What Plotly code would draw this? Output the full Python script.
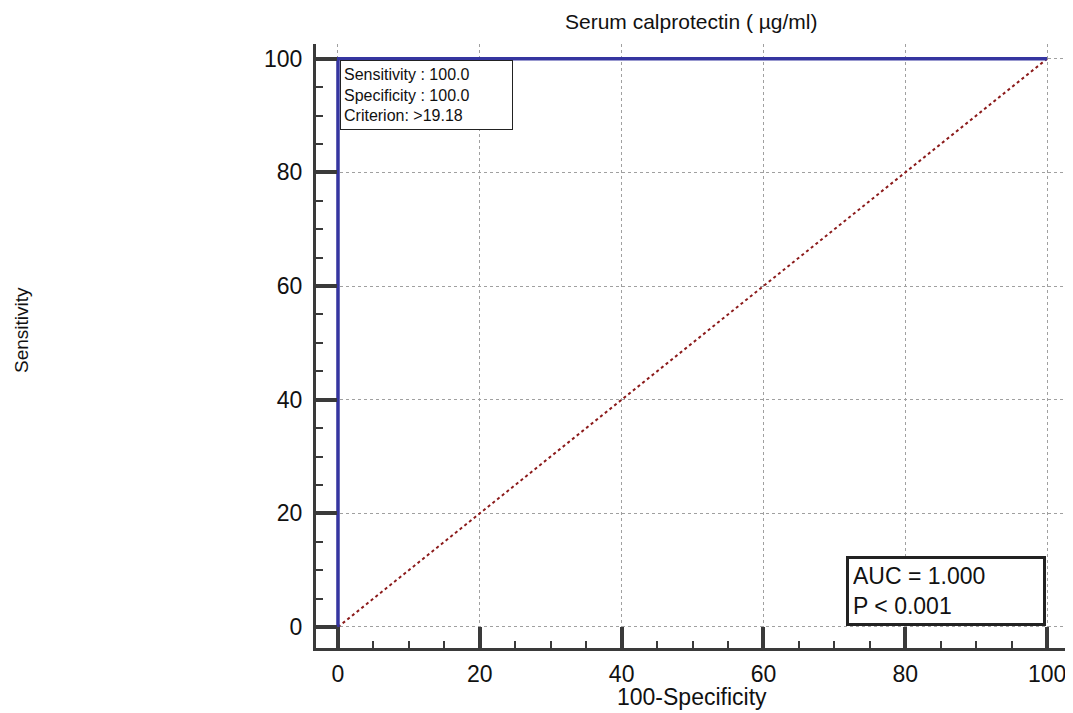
import plotly.graph_objects as go

# ROC data
roc_fpr = [0, 0, 100]
roc_tpr = [0, 100, 100]
ref_x = [0, 100]
ref_y = [0, 100]
tick_vals = [0, 20, 40, 60, 80, 100]
tick_text = ["0", "20", "40", "60", "80", "100"]

title_text = "Serum calprotectin ( µg/ml)"
x_title = "100-Specificity"
y_title = "Sensitivity"
info_lines = ["Sensitivity : 100.0", "Specificity : 100.0", "Criterion: >19.18"]
auc_lines = ["AUC = 1.000", "P &lt; 0.001"]

FONT = "Liberation Sans, Arial, sans-serif"
AX = "#3a3a3a"

# page has an 8px body margin; figure sized to fit the window
W, H = 1065, 705

fig = go.Figure()
fig.add_trace(go.Scatter(x=ref_x, y=ref_y, mode="lines",
                         line=dict(color="#8b1a1a", width=2, dash="dot"),
                         showlegend=False, hoverinfo="skip"))
fig.add_trace(go.Scatter(x=roc_fpr, y=roc_tpr, mode="lines",
                         line=dict(color="#3535a0", width=3.5),
                         showlegend=False, hoverinfo="skip"))

axis_common = dict(
    showline=True, linewidth=3, linecolor=AX, mirror=False,
    showgrid=True, gridcolor="#a0a0a0", gridwidth=1, griddash="dot",
    zeroline=False,
    ticks="inside", ticklen=21, tickwidth=4, tickcolor=AX,
    tickvals=tick_vals, ticktext=tick_text,
    tickfont=dict(family=FONT, size=23, color="#111"),
    minor=dict(dtick=5, tick0=0, ticks="inside", ticklen=7, tickwidth=2,
               tickcolor=AX, showgrid=False),
)

fig.update_xaxes(range=[-3.1, 102.8], ticklabelstandoff=3, **axis_common)
fig.update_yaxes(range=[-3.7, 102.6], ticklabelstandoff=6, **axis_common)

fig.update_layout(
    width=W, height=H,
    margin=dict(l=308, r=6, t=36, b=65),
    paper_bgcolor="white", plot_bgcolor="white",
    font=dict(family=FONT, color="#111"),
    annotations=[
        dict(text=title_text, xref="paper", yref="paper", x=0.5, y=1,
             yshift=36, xanchor="center", yanchor="top", showarrow=False,
             font=dict(family=FONT, size=21, color="#111")),
        dict(text=x_title, xref="paper", yref="paper", x=0.5, y=0,
             yshift=-49, xanchor="center", yanchor="middle", showarrow=False,
             font=dict(family=FONT, size=23, color="#111")),
        dict(text=y_title, xref="paper", yref="paper", x=0, y=0.5265,
             xshift=-294, xanchor="center", yanchor="middle", textangle=-90,
             showarrow=False,
             font=dict(family="Liberation Sans Narrow, Arial Narrow, " + FONT,
                       size=19, color="#111")),
        dict(text="<br>".join(info_lines), x=0.3, y=99.7, xref="x", yref="y",
             xanchor="left", yanchor="top", align="left", showarrow=False,
             bgcolor="white", bordercolor="#222", borderwidth=1, borderpad=3,
             width=165, height=62,
             font=dict(family=FONT, size=16, color="#111")),
        dict(text="<br>".join(auc_lines), x=99.8, y=0.25, xref="x", yref="y",
             xanchor="right", yanchor="bottom", align="left", showarrow=False,
             bgcolor="white", bordercolor="#222", borderwidth=3, borderpad=4,
             width=186, height=56,
             font=dict(family=FONT, size=23, color="#111")),
    ],
)

fig.write_html("out.html")
